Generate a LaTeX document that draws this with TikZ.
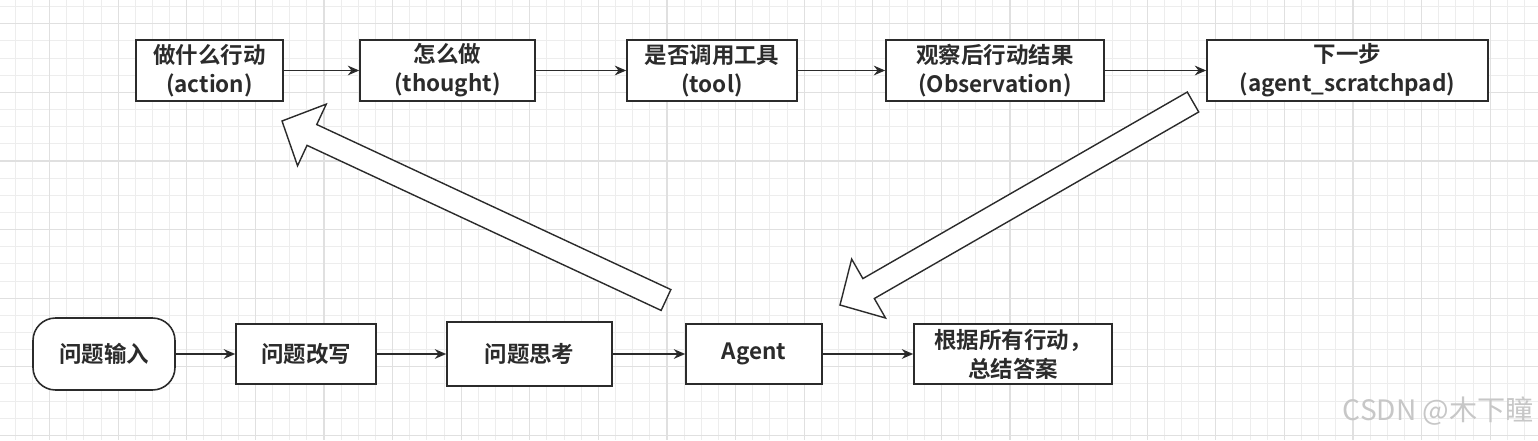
\documentclass[tikz,border=0pt]{standalone}
\usepackage{fontspec}
\setmainfont{Noto Sans CJK SC}[BoldFont={Noto Sans CJK SC Bold}]
\usetikzlibrary{arrows.meta,calc}

\definecolor{linec}{HTML}{2B2B2B}
\definecolor{gridminor}{HTML}{EDEDED}
\definecolor{gridmajor}{HTML}{E0E0E0}

% hollow block arrow from #1 (tail) to #2 (tip)
\newcommand{\fatarrow}[2]{%
  \coordinate (hb) at ($(#2)!0.66cm!(#1)$);
  \draw[linec, line width=0.8pt, fill=white, line join=miter]
    ($(#1)!0.23cm!90:(#2)$) -- ($(hb)!0.23cm!90:(#2)$) -- ($(hb)!0.68cm!90:(#2)$)
    -- (#2) -- ($(hb)!0.68cm!-90:(#2)$) -- ($(hb)!0.23cm!-90:(#2)$)
    -- ($(#1)!0.23cm!-90:(#2)$) -- cycle;
}

\begin{document}
\begin{tikzpicture}[x=0.02cm, y=-0.02cm,
  box/.style={draw=linec, line width=0.9pt, fill=white, text=linec, align=center,
    inner sep=0pt, font=\bfseries\fontsize{12.8}{16.5}\selectfont},
  link/.style={-{Stealth[length=6.5pt, width=5.5pt]}, draw=linec, line width=0.9pt}]
\useasboundingbox (0,0) rectangle (1538,440);

% background grid
\begin{scope}
\clip (0,0) rectangle (1538,440);
\fill[white] (0,0) rectangle (1538,440);
\foreach \i in {0,...,88} \draw[gridminor, line width=0.6pt] ({15.3+17.15*\i},0) -- ++(0,440);
\foreach \j in {0,...,25} \draw[gridminor, line width=0.6pt] (0,{6.65+17.15*\j}) -- ++(1538,0);
\foreach \i in {0,...,21} \draw[gridmajor, line width=0.7pt] ({49.6+68.6*\i},0) -- ++(0,440);
\foreach \j in {0,...,6} \draw[gridmajor, line width=0.7pt] (0,{23.8+68.6*\j}) -- ++(1538,0);
\end{scope}

% top row
\node[box, minimum width=2.94cm, minimum height=1.22cm] (act) at (209.5,70.5) {做什么行动\\(action)};
\node[box, minimum width=3.50cm, minimum height=1.22cm] (tht) at (447.5,70.5) {怎么做\\(thought)};
\node[box, minimum width=3.40cm, minimum height=1.22cm] (tool) at (712,70.5) {是否调用工具\\(tool)};
\node[box, minimum width=4.36cm, minimum height=1.22cm] (obs) at (995,70.5) {观察后行动结果\\(Observation)};
\node[box, minimum width=5.62cm, minimum height=1.22cm] (pad) at (1347.5,70.5) {下一步\\(agent\_scratchpad)};

\path[link] (act) edge (tht);
\path[link] (tht) edge (tool);
\path[link] (tool) edge (obs);
\path[link] (obs) edge (pad);

% bottom row
\node[box, rounded corners=0.45cm, minimum width=2.84cm, minimum height=1.44cm] (inp) at (104,354) {问题输入};
\node[box, minimum width=2.80cm, minimum height=1.20cm] (rew) at (306,354) {问题改写};
\node[box, minimum width=3.30cm, minimum height=1.28cm] (thk) at (529.5,354) {问题思考};
\node[box, minimum width=2.72cm, minimum height=1.20cm] (agent) at (754,354) {Agent};
\node[box, minimum width=3.96cm, minimum height=1.20cm] (sum) at (1013,354) {根据所有行动，\\总结答案};

\path[link] (inp) edge (rew);
\path[link] (rew) edge (thk);
\path[link] (thk) edge (agent);
\path[link] (agent) edge (sum);

% block arrows
\coordinate (upT) at (666,300);
\coordinate (upH) at (282,121);
\coordinate (dnT) at (1193,102);
\coordinate (dnH) at (840,305);
\fatarrow{upT}{upH}
\fatarrow{dnT}{dnH}

% watermark
\node[anchor=east, text=black!22, inner sep=0pt, font=\fontsize{16}{18}\selectfont] (mark) at (1534,411) {CSDN @木下瞳};
\end{tikzpicture}
\end{document}
